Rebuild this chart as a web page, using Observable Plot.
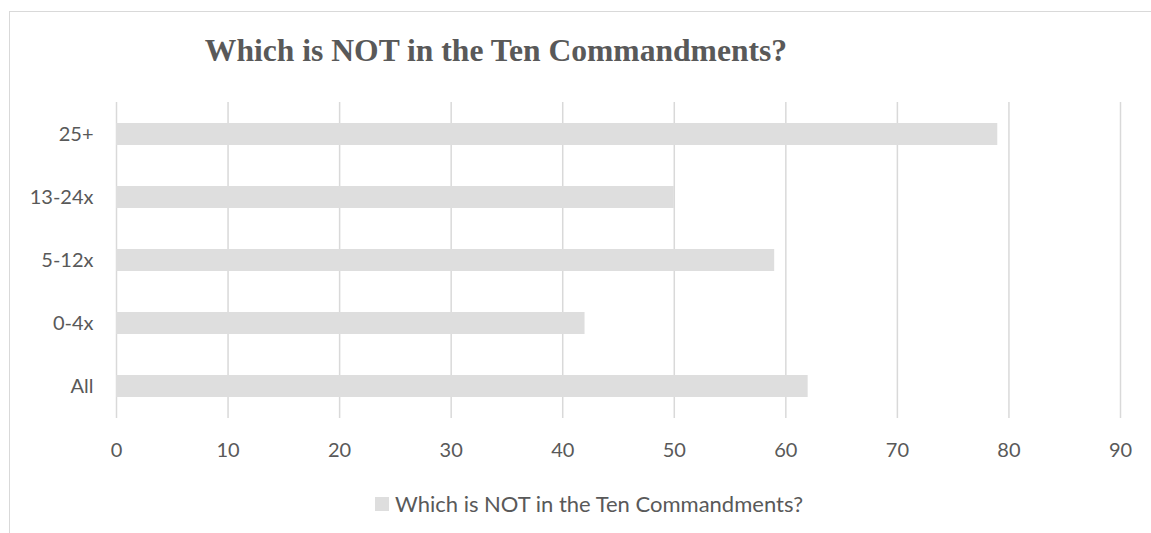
<!DOCTYPE html>
<html>
<head>
<meta charset="utf-8">
<script src="https://cdn.jsdelivr.net/npm/d3@7"></script>
<script src="https://cdn.jsdelivr.net/npm/@observablehq/plot@0.6"></script>
<style>
  html, body { margin: 0; padding: 0; background: #fff; }
  body { position: relative; width: 1151px; height: 533px; overflow: hidden; }
  #frame { position: absolute; left: 9px; top: 11px; width: 1300px; height: 700px;
           border-top: 1.5px solid #d9d9d9; border-left: 1.5px solid #d9d9d9; }
  #title { position: absolute; left: 0; width: 992px; top: 35px; text-align: center;
           font-family: "Liberation Serif", "Times New Roman", serif; font-weight: bold;
           font-size: 31.6px; color: #595959; line-height: 1; white-space: nowrap; }
  #chart { position: absolute; left: 0; top: 80px; }
  #legend { position: absolute; left: 375px; top: 490px; font-family: Lato, sans-serif;
            font-size: 22px; color: #595959; display: flex; align-items: center; white-space: nowrap; }
  #legend .sw { width: 14px; height: 14px; background: #dedede; margin-right: 6px; }
</style>
</head>
<body>
<div id="frame"></div>
<div id="title">Which is NOT in the Ten Commandments?</div>
<div id="chart"></div>
<div id="legend"><span class="sw"></span><span id="legendText"></span></div>
<script>
const title = "Which is NOT in the Ten Commandments?";
const categories = ["25+", "13-24x", "5-12x", "0-4x", "All"];
const values = [79, 50, 59, 42, 62];
const xTicks = [0, 10, 20, 30, 40, 50, 60, 70, 80, 90];

const data = categories.map((c, i) => ({category: c, value: values[i]}));

document.getElementById("legendText").textContent = title;

const chart = Plot.plot({
  width: 1151,
  height: 400,
  marginLeft: 116,
  marginRight: 31,
  marginTop: 22,
  marginBottom: 62,
  style: {fontFamily: "Lato, sans-serif", fontSize: "20px", color: "#595959", background: "transparent"},
  x: {domain: [0, 90], ticks: xTicks, label: null},
  y: {domain: categories, paddingInner: 0.652, paddingOuter: 0.326, label: null},
  marks: [
    Plot.ruleX(xTicks, {stroke: "#d9d9d9", strokeWidth: 1.5, strokeOpacity: 1}),
    Plot.barX(data, {x: "value", y: "category", fill: "#dedede"}),
    Plot.axisX({ticks: xTicks, tickSize: 0, tickPadding: 24, label: null, fill: "#595959"}),
    Plot.axisY({tickSize: 0, tickPadding: 23, label: null, fill: "#595959"})
  ]
});
document.getElementById("chart").appendChild(chart);
</script>
</body>
</html>
